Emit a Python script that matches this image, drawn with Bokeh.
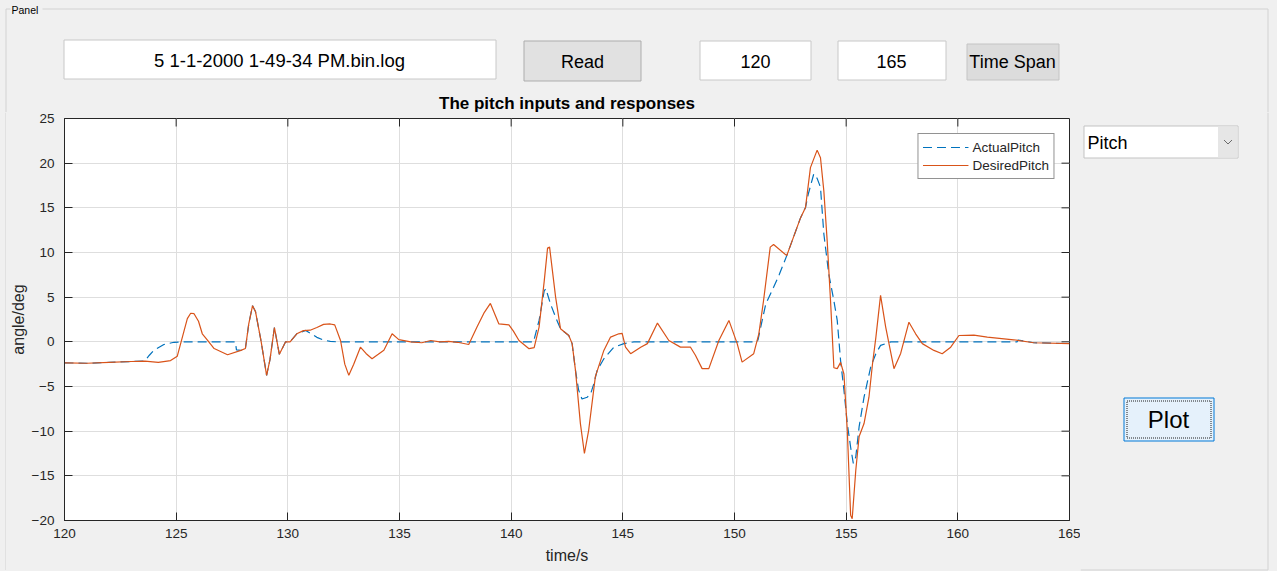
from jinja2 import Template
from bokeh.plotting import figure
from bokeh.layouts import column, row
from bokeh.models import (Legend, LegendItem, FixedTicker, Range1d, BoxAnnotation)
from bokeh.core.properties import value
from bokeh.embed import file_html
from bokeh.resources import INLINE

# ---------------- data ----------------
file_name = "5 1-1-2000 1-49-34 PM.bin.log"
read_label = "Read"
span_label = "Time Span"
plot_label = "Plot"
panel_label = "Panel"
channel = "Pitch"
chart_title = "The pitch inputs and responses"
x_label = "time/s"
y_label = "angle/deg"
series_names = ["ActualPitch", "DesiredPitch"]
x_ticks = [120, 125, 130, 135, 140, 145, 150, 155, 160, 165]
y_ticks = [-20, -15, -10, -5, 0, 5, 10, 15, 20, 25]

desired_t = [120.0, 121.0, 122.0, 123.0, 123.6, 124.2, 124.75, 125.05, 125.35, 125.5,
             125.65, 125.8, 126.0, 126.17, 126.4, 126.7, 127.3, 127.9, 128.1, 128.25,
             128.42, 128.55, 128.8, 129.05, 129.2, 129.4, 129.62, 129.9, 130.1, 130.4,
             130.7, 131.0, 131.3, 131.6, 131.9, 132.1, 132.36, 132.55, 132.73, 132.95,
             133.25, 133.5, 133.77, 134.05, 134.3, 134.67, 134.97, 135.5, 136.0, 136.4,
             136.8, 137.2, 137.6, 138.1, 138.47, 138.8, 139.07, 139.45, 139.9, 140.1,
             140.35, 140.8, 141.03, 141.25, 141.48, 141.63, 141.72, 141.99, 142.21, 142.58,
             142.73, 142.88, 143.1, 143.28, 143.47, 143.77, 144.15, 144.45, 144.82, 144.97,
             145.12, 145.35, 145.8, 146.1, 146.55, 147.06, 147.58, 148.03, 148.25, 148.55,
             148.85, 149.3, 149.75, 150.12, 150.34, 150.86, 151.09, 151.3, 151.6, 151.75,
             152.34, 152.96, 153.18, 153.4, 153.7, 153.85, 154.0, 154.15, 154.3, 154.45,
             154.6, 154.75, 154.9, 155.05, 155.2, 155.27, 155.43, 155.58, 155.8, 156.02,
             156.18, 156.33, 156.54, 156.77, 157.14, 157.44, 157.81, 158.11, 158.41, 158.93,
             159.3, 159.68, 160.05, 160.72, 161.32, 162.5, 163.4, 165.0]
desired_v = [-2.35, -2.4, -2.3, -2.2, -2.15, -2.3, -2.1, -1.6, 1.2, 2.6,
             3.2, 3.15, 2.3, 0.9, 0.2, -0.75, -1.45, -0.95, -0.75, 2.0,
             4.05, 3.4, 0.1, -3.75, -2.0, 1.6, -1.4, 0.0, 0.0, 0.9,
             1.25, 1.3, 1.6, 1.95, 2.0, 1.9, 0.15, -2.5, -3.75, -2.5,
             -0.6, -1.3, -1.9, -1.4, -0.95, 0.9, 0.25, 0.0, -0.1, 0.15,
             0.0, 0.05, -0.05, -0.3, 1.65, 3.3, 4.3, 2.0, 1.9, 1.2,
             0.15, -0.77, -0.65, 1.65, 6.8, 10.5, 10.6, 5.0, 1.46, 0.7,
             -0.2, -3.2, -9.15, -12.5, -9.9, -3.9, -0.96, 0.53, 0.9, 0.95,
             -0.6, -1.33, -0.6, -0.2, 2.1, 0.15, -0.59, -0.6, -1.5, -3.0,
             -3.0, 0.15, 2.4, -0.2, -2.27, -1.33, 0.9, 4.6, 10.6, 10.9,
             9.65, 13.9, 15.05, 19.5, 21.46, 20.6, 16.9, 11.3, 4.6, -2.9,
             -3.0, -2.3, -3.6, -9.9, -19.4, -19.8, -14.4, -10.6, -9.15, -6.2,
             -2.45, 0.5, 5.2, 1.65, -3.0, -1.3, 2.2, 0.9, -0.2, -0.96,
             -1.33, -0.6, 0.71, 0.75, 0.53, 0.23, -0.1, -0.2]

actual_t = [120.0, 121.0, 122.0, 123.0, 123.6, 123.8, 124.0, 124.45, 124.9, 125.5,
            127.65, 127.7, 127.9, 128.1, 128.25, 128.42, 128.55, 128.8, 129.05, 129.2,
            129.4, 129.62, 129.9, 130.1, 130.4, 130.8, 131.05, 131.3, 131.6, 131.9,
            132.2, 134.9, 141.0, 141.25, 141.48, 141.55, 141.76, 141.99, 142.21, 142.58,
            142.73, 142.88, 143.02, 143.17, 143.4, 143.55, 143.7, 143.85, 144.15, 144.6,
            145.05, 145.5, 151.0, 151.05, 151.4, 151.75, 152.0, 152.34, 152.96, 153.18,
            153.3, 153.55, 153.7, 153.85, 154.0, 154.22, 154.45, 154.6, 154.75, 154.9,
            155.05, 155.2, 155.32, 155.43, 155.58, 155.8, 156.1, 156.33, 156.54, 156.77,
            157.0, 162.65, 162.7, 163.4, 165.0]
actual_v = [-2.35, -2.4, -2.3, -2.2, -2.15, -1.5, -0.95, -0.3, -0.05, 0.0,
            0.0, -0.9, -0.95, -0.75, 2.0, 4.05, 3.4, 0.1, -3.75, -2.0,
            1.6, -1.4, 0.0, 0.0, 0.9, 1.28, 0.9, 0.5, 0.2, 0.05,
            0.0, 0.0, 0.0, 2.4, 5.7, 5.95, 4.25, 2.76, 1.46, 0.7,
            -0.2, -3.2, -5.4, -6.4, -6.2, -5.9, -4.7, -3.2, -1.9, -0.6,
            -0.2, 0.0, 0.0, 0.2, 4.25, 6.1, 7.5, 9.65, 13.9, 15.05,
            16.5, 18.8, 18.3, 17.3, 12.1, 7.6, 4.6, 2.4, -2.1, -5.4,
            -9.15, -11.8, -13.6, -12.9, -9.5, -6.2, -2.8, -1.33, -0.4, -0.2,
            0.0, 0.0, 0.2, -0.1, -0.2]

# ---------------- style ----------------
BG = "#f0f0f0"
AX = "#262626"
BLUE = "#0072BD"
ORANGE = "#D95319"
FONT = "Liberation Sans"
PANEL_LINE = "#d2d2d2"

W, H = 1277, 571
TOP_H = 112
LEFT_W = 6
SIDE_X = 1080
BOT_H = 2
FRAME_W = 1005
FRAME_H = 402
TICK_PX = 8
BG_STYLE = {"background-color": BG}


def no_align(f):
    if "frame_align" in f.properties():
        f.frame_align = False
    f.styles = BG_STYLE


def ui_fig(w, h, x0, y0):
    f = figure(width=w, height=h, x_range=Range1d(x0, x0 + w), y_range=Range1d(y0 + h, y0),
               x_axis_type=None, y_axis_type=None, toolbar_location=None,
               output_backend="svg", min_border=0, title=None,
               background_fill_color=BG, border_fill_color=BG, outline_line_color=None)
    f.grid.visible = False
    no_align(f)
    return f


def box(f, l, r, t, b, fill, line, width=1, dash="solid"):
    f.quad(left=l, right=r, top=t, bottom=b, fill_color=fill, line_color=line,
           line_width=width, line_dash=dash)


def label(f, x, y, txt, size, align="center", bold=False, color="#000000"):
    f.text(x=[x], y=[y], text=[txt], text_align=align, text_baseline="middle",
           text_font_size=size, text_font=value(FONT), text_color=color,
           text_font_style="bold" if bold else "normal")


def cover(f, l, r, t, b):
    f.quad(left=l, right=r, top=t, bottom=b, fill_color=BG, line_color=None)


# ---------------- top strip ----------------
top = ui_fig(W, TOP_H, 0, 0)
cover(top, 0, W, TOP_H - 2, TOP_H)
top.segment(x0=[5.5, 42, 5.5, 1267.5], y0=[8.5, 8.5, 8.5, 8.5],
            x1=[10, 1267.5, 5.5, 1267.5], y1=[8.5, 8.5, TOP_H, TOP_H],
            line_color=PANEL_LINE, line_width=1)
label(top, 11, 9, panel_label, "10.5px", align="left")

box(top, 63.5, 495.5, 39.5, 78.5, "white", "#c8c8c8")
label(top, 279, 60, file_name, "18.5px")
box(top, 523.5, 640.5, 40.5, 80.5, "#e1e1e1", "#adadad")
label(top, 582, 61, read_label, "18px")
box(top, 699.5, 810.5, 40.5, 79.5, "white", "#c8c8c8")
label(top, 755, 61, str(x_ticks[0]), "18px")
box(top, 837.5, 945.5, 40.5, 79.5, "white", "#c8c8c8")
label(top, 891, 61, str(x_ticks[-1]), "18px")
box(top, 966.5, 1058.5, 43.5, 79.5, "#dcdcdc", "#c4c4c4")
label(top, 1012, 61, span_label, "18px")
label(top, 566.5, 103, chart_title, "17px", bold=True)

# ---------------- left strip (panel edge) ----------------
left = ui_fig(LEFT_W, H - TOP_H, 0, TOP_H)
left.segment(x0=[5.5], y0=[TOP_H], x1=[5.5], y1=[569.5],
             line_color=PANEL_LINE, line_width=1)

# ---------------- chart ----------------
x0, x1 = x_ticks[0], x_ticks[-1]
y0, y1 = y_ticks[0], y_ticks[-1]
PW, PH = SIDE_X - LEFT_W, H - TOP_H - BOT_H
p = figure(width=PW, height=PH, x_range=Range1d(x0, x1),
           y_range=Range1d(y0, y1), toolbar_location=None,
           output_backend="svg", title=None,
           min_border_left=64 - LEFT_W, min_border_right=11, min_border_top=6,
           min_border_bottom=PH - 6 - FRAME_H,
           background_fill_color="white", border_fill_color=BG, outline_line_color=AX)
no_align(p)

p.xaxis.ticker = FixedTicker(ticks=x_ticks)
p.yaxis.ticker = FixedTicker(ticks=y_ticks)
p.xgrid.ticker = FixedTicker(ticks=x_ticks)
p.ygrid.ticker = FixedTicker(ticks=y_ticks)
p.grid.grid_line_color = "#dedede"
p.grid.grid_line_width = 1

for ax in p.axis:
    ax.axis_line_color = AX
    ax.major_tick_line_color = AX
    ax.major_tick_in = TICK_PX
    ax.major_tick_out = 0
    ax.minor_tick_line_color = None
    ax.major_label_text_font = FONT
    ax.major_label_text_font_size = "13.5px"
    ax.major_label_text_color = AX
    ax.axis_label_text_font = FONT
    ax.axis_label_text_font_size = "16px"
    ax.axis_label_text_font_style = "normal"
    ax.axis_label_text_color = AX

p.xaxis.axis_label = x_label
p.xaxis.major_label_standoff = 8
p.xaxis.axis_label_standoff = 6
p.yaxis.axis_label = y_label
p.yaxis.major_label_standoff = 10
p.yaxis.axis_label_standoff = 2

# inward ticks on the top and right edges of the box
dy = (y1 - y0) / FRAME_H * TICK_PX
dx = (x1 - x0) / FRAME_W * TICK_PX
p.segment(x0=x_ticks[1:-1], y0=[y1] * (len(x_ticks) - 2),
          x1=x_ticks[1:-1], y1=[y1 - dy] * (len(x_ticks) - 2), line_color=AX, line_width=1)
p.segment(x0=[x1] * (len(y_ticks) - 2), y0=y_ticks[1:-1],
          x1=[x1 - dx] * (len(y_ticks) - 2), y1=y_ticks[1:-1], line_color=AX, line_width=1)

r_act = p.line(actual_t, actual_v, line_color=BLUE, line_width=1.2, line_dash="9 5")
r_des = p.line(desired_t, desired_v, line_color=ORANGE, line_width=1.2)

legend = Legend(items=[LegendItem(label=series_names[0], renderers=[r_act]),
                       LegendItem(label=series_names[1], renderers=[r_des])],
                location="top_right", margin=15, padding=4, spacing=0,
                glyph_width=46, glyph_height=18, label_height=18, label_standoff=4,
                label_text_font=FONT, label_text_font_size="13.5px", label_text_color=AX,
                border_line_color=AX, border_line_width=1,
                background_fill_color="white", background_fill_alpha=1.0)
p.add_layout(legend)

# paint the chart canvas edges with the panel colour
for (l, r, t, b) in [(0, PW, 0, 2), (0, PW, PH - 2, PH), (PW - 2, PW, 0, PH)]:
    p.add_layout(BoxAnnotation(left=l, right=r, top=t, bottom=b,
                               left_units="canvas", right_units="canvas",
                               top_units="canvas", bottom_units="canvas",
                               fill_color=BG, fill_alpha=1.0, line_color=None))

# ---------------- bottom strip (panel edge) ----------------
bottom = ui_fig(PW, BOT_H, LEFT_W, H - BOT_H)
bottom.segment(x0=[LEFT_W], y0=[569.5], x1=[SIDE_X], y1=[569.5],
               line_color=PANEL_LINE, line_width=1)

# ---------------- right side ----------------
side = ui_fig(W - SIDE_X, H - TOP_H, SIDE_X, TOP_H)
cover(side, SIDE_X, SIDE_X + 2, TOP_H, H)
cover(side, SIDE_X, W, TOP_H, TOP_H + 2)
side.segment(x0=[1267.5, SIDE_X], y0=[TOP_H, 569.5], x1=[1267.5, 1267.5], y1=[569.5, 569.5],
             line_color=PANEL_LINE, line_width=1)
box(side, 1083.5, 1237.5, 125.5, 157.5, "white", "#c3c3c3")
side.quad(left=1217.5, right=1237, top=126, bottom=157, fill_color="#e6e6e6", line_color=None)
side.line(x=[1223.5, 1227.5, 1231.5], y=[139.5, 143.5, 139.5], line_color="#6a6a6a", line_width=1)
label(side, 1087, 142, channel, "18px", align="left")
box(side, 1123.5, 1213.5, 397.5, 440.5, "#e5f1fb", "#0078d7")
box(side, 1126.5, 1210.5, 400.5, 437.5, None, "#202020", dash="1 1")
label(side, 1168, 419, plot_label, "24px")

inner = column(p, bottom, spacing=0, styles=BG_STYLE)
mid = row(left, inner, side, spacing=0, styles=BG_STYLE)
layout = column(top, mid, spacing=0, styles=BG_STYLE)

page = Template("""{% extends base %}
{% block preamble %}<style>
html, body { margin: 0; padding: 0; background-color: #f0f0f0; }
body > div { background-color: #f0f0f0; }
</style>{% endblock %}""")

open("out.html", "w").write(file_html(layout, INLINE, template=page))
